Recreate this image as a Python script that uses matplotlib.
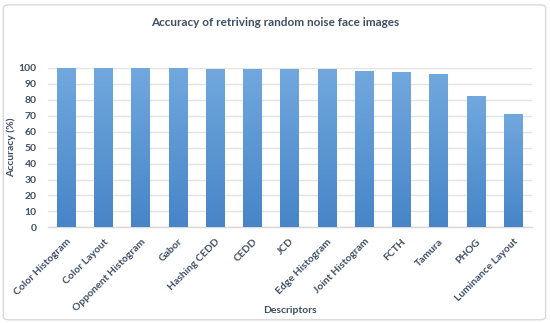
import matplotlib
matplotlib.use("Agg")
import matplotlib.pyplot as plt
import numpy as np
from matplotlib.patches import FancyBboxPatch
from matplotlib.colors import LinearSegmentedColormap

categories = ["Color Histogram", "Color Layout", "Opponent Histogram", "Gabor",
              "Hashing CEDD", "CEDD", "JCD", "Edge Histogram", "Joint Histogram",
              "FCTH", "Tamura", "PHOG", "Luminance Layout"]
values = [100, 100, 100, 99.6, 99.5, 99.4, 99.3, 99.2, 98.1, 97.1, 96.0, 82.3, 71.2]
yticks = list(range(0, 101, 10))

plt.rcParams['font.family'] = ['Lato', 'DejaVu Sans']
txt = '#3f4e63'

fig = plt.figure(figsize=(5.5, 3.23), dpi=100)
ax = fig.add_axes([0.0867, 0.296, 0.880, 0.494])

x = np.arange(len(categories))
bars = ax.bar(x, values, width=0.5, color='#5b9bd5', zorder=2)

cmap = LinearSegmentedColormap.from_list('g', ['#4785c8', '#71a8de'])
grad = np.linspace(0, 1, 256).reshape(-1, 1)
for b in bars:
    x0, y0 = b.get_x(), b.get_y()
    w, h = b.get_width(), b.get_height()
    im = ax.imshow(grad, cmap=cmap, origin='lower', aspect='auto',
                   extent=[x0, x0 + w, y0, y0 + h], zorder=3)
    im.set_clip_path(b)

ax.set_xlim(-0.5, len(categories) - 0.5)
ax.set_ylim(0, 100)
ax.set_yticks(yticks)
ax.set_yticklabels([str(t) for t in yticks], fontsize=7.5, fontweight='bold', color=txt)
ax.set_xticks(x)
ax.set_xticklabels(categories, rotation=45, ha='right', rotation_mode='anchor',
                   fontsize=7.5, fontweight='bold', color=txt)
ax.tick_params(axis='y', length=0, pad=8)
ax.tick_params(axis='x', length=0, pad=7)
ax.grid(axis='y', color='#e3e3e3', linewidth=1, zorder=0)
ax.set_axisbelow(True)
for s in ['top', 'right', 'left']:
    ax.spines[s].set_visible(False)
ax.spines['bottom'].set_color('#d9d9d9')
ax.spines['bottom'].set_linewidth(1)

ax.set_ylabel('Accuracy (%)', fontsize=7.5, fontweight='bold', color=txt, labelpad=2)
fig.text(0.527, 0.04, 'Descriptors', ha='center', va='center', fontsize=7.5,
         fontweight='bold', color=txt)
fig.text(0.5, 0.93, 'Accuracy of retriving random noise face images', ha='center',
         va='center', fontsize=8.5, fontweight='bold', color=txt)

border = FancyBboxPatch((0.006, 0.01), 0.986, 0.975, boxstyle='round,pad=0,rounding_size=0.01',
                        transform=fig.transFigure, facecolor='none', edgecolor='#d9d9d9',
                        linewidth=1)
fig.patches.append(border)

fig.savefig('out.png', dpi=100)
